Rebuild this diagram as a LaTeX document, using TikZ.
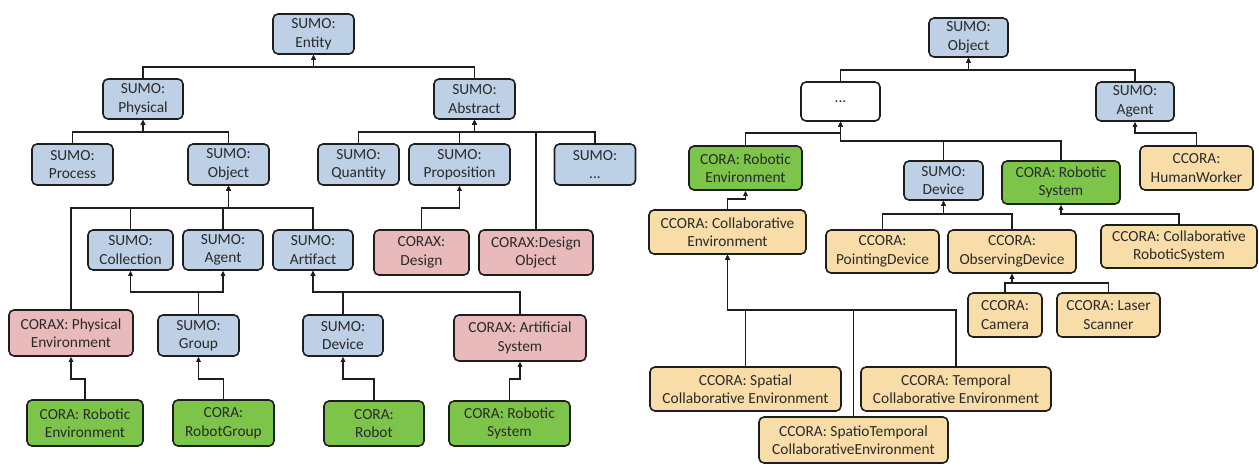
\documentclass[tikz,border=0pt]{standalone}
\usepackage{fontspec}
\setmainfont{Carlito}
\usetikzlibrary{arrows.meta}
\definecolor{blu}{HTML}{BDD0E6}
\definecolor{pnk}{HTML}{E8BABC}
\definecolor{grn}{HTML}{7DC54A}
\definecolor{tan}{HTML}{F9DDA8}
\definecolor{txt}{HTML}{2A2A2A}
\definecolor{edge}{HTML}{1E1E1E}
\tikzset{
  box/.style={draw=edge,line width=1.6pt,rounded corners=5pt,align=center,inner sep=0pt,
    text=txt,font=\fontsize{15.4}{18.5}\selectfont},
  conn/.style={draw=edge,line width=1.7pt,-{Triangle[length=5pt,width=4.5pt]}},
}
\newcommand\bx[6]{\node[box,fill=#1,minimum width=#4pt,minimum height=#5pt] (#2) at (#3) {#6};}
\begin{document}
\begin{tikzpicture}[x=1pt,y=-1pt]
\useasboundingbox (0,0) rectangle (1259,468);
% ---------- left tree ----------
\bx{blu}{entity}{313.5,34}{81}{40}{SUMO:\\Entity}
\bx{blu}{phys}{143,99}{80}{40}{SUMO:\\Physical}
\bx{blu}{abst}{474.5,99}{81}{40}{SUMO:\\Abstract}
\bx{blu}{proc}{72.5,164.5}{81}{41}{SUMO:\\Process}
\bx{blu}{obj}{228.5,164.5}{81}{41}{SUMO:\\Object}
\bx{blu}{quant}{358.5,164.5}{81}{41}{SUMO:\\Quantity}
\bx{blu}{prop}{459.5,164.5}{101}{41}{SUMO:\\Proposition}
\bx{blu}{sdots}{595,164.5}{81}{41}{SUMO:\\...}
\bx{blu}{coll}{130.5,250}{85}{40}{SUMO:\\Collection}
\bx{blu}{agentL}{223,250}{80}{40}{SUMO:\\Agent}
\bx{blu}{artif}{313,250}{80}{40}{SUMO:\\Artifact}
\bx{pnk}{design}{421.5,252.5}{95}{45}{CORAX:\\Design}
\bx{pnk}{designobj}{536,252.5}{114}{45}{CORAX:Design\\Object}
\bx{pnk}{physenv}{71,333}{124}{46}{CORAX: Physical\\Environment}
\bx{blu}{group}{198.5,335.5}{81}{41}{SUMO:\\Group}
\bx{blu}{device}{343,335.5}{80}{41}{SUMO:\\Device}
\bx{pnk}{artsys}{520,338}{132}{46}{CORAX: Artificial\\System}
\bx{grn}{robenvL}{85,423}{116}{46}{CORA: Robotic\\Environment}
\bx{grn}{robgroup}{223.5,423}{101}{46}{CORA:\\RobotGroup}
\bx{grn}{robot}{374,423.5}{100}{45}{CORA:\\Robot}
\bx{grn}{robsysL}{509.5,423.5}{121}{45}{CORA: Robotic\\System}
% bars
\coordinate (b1) at (0,67);
\coordinate (b2) at (0,132);
\coordinate (b3) at (0,208);
\coordinate (b4) at (0,292);
\coordinate (b5) at (0,379);
\draw[conn] (phys.north) -- (phys.north |- b1) -| (entity.south);
\draw[conn] (abst.north) -- (abst.north |- b1) -| (entity.south);
\draw[conn] (proc.north) -- (proc.north |- b2) -| (phys.south);
\draw[conn] (obj.north) -- (obj.north |- b2) -| (phys.south);
\draw[conn] (quant.north) -- (quant.north |- b2) -| (abst.south);
\draw[conn] (prop.north) -- (prop.north |- b2) -| (abst.south);
\draw[conn] (sdots.north) -- (sdots.north |- b2) -| (abst.south);
\draw[conn] (designobj.north) -- (designobj.north |- b2) -| (abst.south);
\draw[conn] (physenv.north) -- (physenv.north |- b3) -| (obj.south);
\draw[conn] (coll.north) -- (coll.north |- b3) -| (obj.south);
\draw[conn] (agentL.north) -- (agentL.north |- b3) -| (obj.south);
\draw[conn] (artif.north) -- (artif.north |- b3) -| (obj.south);
\draw[conn] (design.north) -- (design.north |- b3) -| (prop.south);
\draw[conn] (group.north) -- (group.north |- b4) -| (coll.south);
\draw[conn] (group.north) -- (group.north |- b4) -| (agentL.south);
\draw[conn] (device.north) -- (device.north |- b4) -| (artif.south);
\draw[conn] (artsys.north) -- (artsys.north |- b4) -| (artif.south);
\draw[conn] (robenvL.north) -- (robenvL.north |- b5) -| (physenv.south);
\draw[conn] (robgroup.north) -- (robgroup.north |- b5) -| (group.south);
\draw[conn] (robot.north) -- (robot.north |- b5) -| (device.south);
\draw[conn] (robsysL.north) -- (robsysL.north |- b5) -| (artsys.south);
% ---------- right tree ----------
\bx{blu}{objR}{968.5,37.5}{79}{39}{SUMO:\\Object}
\bx{white}{dots}{840.5,101.5}{79}{39}{...}
\bx{blu}{agentR}{1135,101.5}{78}{39}{SUMO:\\Agent}
\bx{grn}{robenvR}{745.5,168}{113}{44}{CORA: Robotic\\Environment}
\bx{blu}{deviceR}{943.5,180.5}{79}{39}{SUMO:\\Device}
\bx{grn}{robsysR}{1061,182.5}{118}{43}{CORA: Robotic\\System}
\bx{tan}{human}{1196.5,168}{113}{44}{CCORA:\\HumanWorker}
\bx{tan}{collenv}{727.5,232}{157}{44}{CCORA: Collaborative\\Environment}
\bx{tan}{pointing}{882.5,251.5}{113}{43}{CCORA:\\PointingDevice}
\bx{tan}{observing}{1012,251.5}{128}{43}{CCORA:\\ObservingDevice}
\bx{tan}{collrob}{1179,246.5}{156}{43}{CCORA: Collaborative\\RoboticSystem}
\bx{tan}{camera}{1005,315}{74}{44}{CCORA:\\Camera}
\bx{tan}{laser}{1108.5,315}{103}{44}{CCORA: Laser\\Scanner}
\bx{tan}{spatial}{745.5,389}{191}{44}{CCORA: Spatial\\Collaborative Environment}
\bx{tan}{temporal}{956,389}{190}{44}{CCORA: Temporal\\Collaborative Environment}
\bx{tan}{spatiotemp}{853.5,440}{189}{46}{CCORA: SpatioTemporal\\CollaborativeEnvironment}
\coordinate (r1) at (0,70);
\coordinate (r2) at (0,133);
\coordinate (r3) at (0,141);
\coordinate (r4) at (0,199);
\coordinate (r5) at (0,214);
\coordinate (r6) at (0,283);
\coordinate (r7) at (0,310);
\draw[conn] (dots.north) -- (dots.north |- r1) -| (objR.south);
\draw[conn] (agentR.north) -- (agentR.north |- r1) -| (objR.south);
\draw[conn] (robenvR.north) -- (robenvR.north |- r2) -| (dots.south);
\draw[conn] (deviceR.north) -- (deviceR.north |- r3) -| (dots.south);
\draw[conn] (robsysR.north) -- (robsysR.north |- r3) -| (dots.south);
\draw[conn] (human.north) -- (human.north |- r2) -| (agentR.south);
\draw[conn] (collenv.north) -- (collenv.north |- r4) -| (robenvR.south);
\draw[conn] (pointing.north) -- (pointing.north |- r5) -| (deviceR.south);
\draw[conn] (observing.north) -- (observing.north |- r5) -| (deviceR.south);
\draw[conn] (collrob.north) -- (collrob.north |- r5) -| (robsysR.south);
\draw[conn] (camera.north) -- (camera.north |- r6) -| (observing.south);
\draw[conn] (laser.north) -- (laser.north |- r6) -| (observing.south);
\draw[conn] (spatial.north) -- (spatial.north |- r7) -| (collenv.south);
\draw[conn] (spatiotemp.north) -- (spatiotemp.north |- r7) -| (collenv.south);
\draw[conn] (temporal.north) -- (temporal.north |- r7) -| (collenv.south);
\end{tikzpicture}
\end{document}
